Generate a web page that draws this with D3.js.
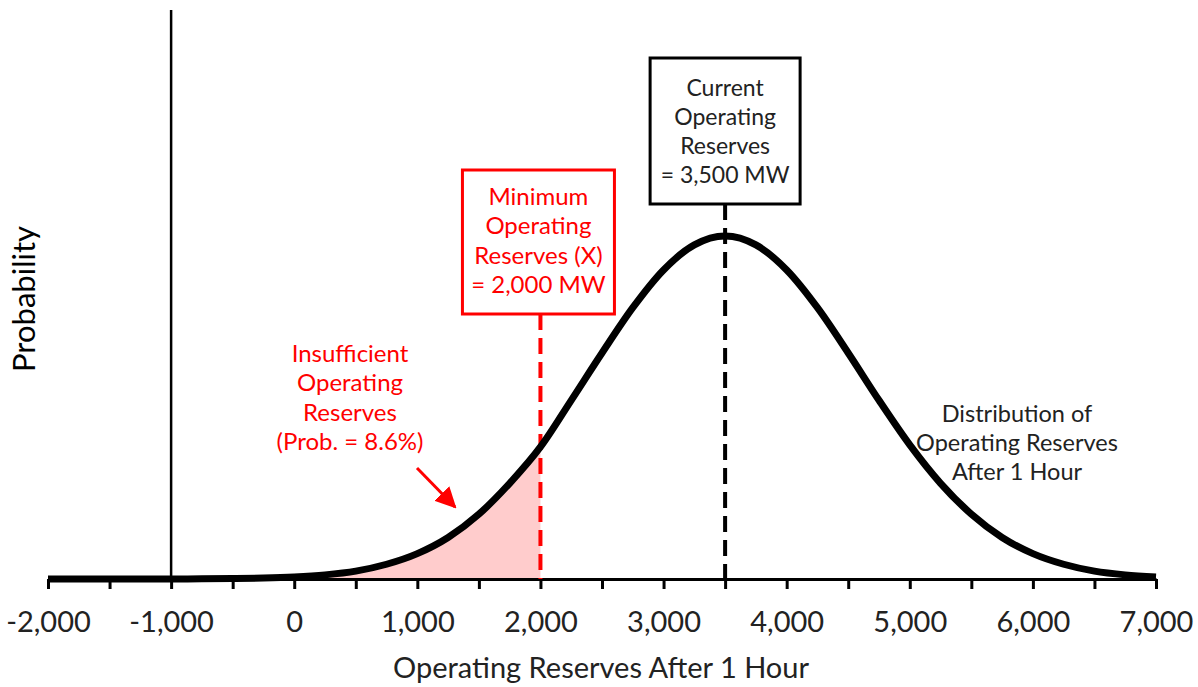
<!DOCTYPE html>
<html>
<head>
<meta charset="utf-8">
<script src="https://cdn.jsdelivr.net/npm/d3@7"></script>
<style>
  body { margin: 0; background: #fff; }
  svg { display: block; font-family: Lato, "Open Sans", sans-serif; }
</style>
</head>
<body>
<svg id="chart" width="1198" height="687"></svg>
<script>
// Operating reserves after 1 hour (MW) and relative probability density
const reserveMW = [-2000, -1750, -1500, -1250, -1000, -750, -500, -250, 0, 250, 500, 750,
  1000, 1250, 1500, 1750, 2000, 2250, 2500, 2750, 3000, 3250, 3500, 3750, 4000, 4250,
  4500, 4750, 5000, 5250, 5500, 5750, 6000, 6250, 6500, 6750, 7000];
const probability = [0, 0, 0.00003, 0.00008, 0.0002, 0.0005, 0.0013, 0.0028, 0.006, 0.012,
  0.023, 0.043, 0.074, 0.121, 0.189, 0.279, 0.385, 0.521, 0.659, 0.791, 0.901, 0.974, 1,
  0.974, 0.901, 0.791, 0.659, 0.521, 0.391, 0.279, 0.189, 0.121, 0.074, 0.043, 0.023, 0.012, 0.006];

const tickValues = [-2000, -1500, -1000, -500, 0, 500, 1000, 1500, 2000, 2500, 3000,
  3500, 4000, 4500, 5000, 5500, 6000, 6500, 7000];
const labelledTicks = [-2000, -1000, 0, 1000, 2000, 3000, 4000, 5000, 6000, 7000];

const yAxisAt = -1000;
const minimumReserves = 2000;
const currentReserves = 3500;

const minimumLabel = ["Minimum", "Operating", "Reserves (X)", "= 2,000 MW"];
const currentLabel = ["Current", "Operating", "Reserves", "= 3,500 MW"];
const shortfallLabel = ["Insufficient", "Operating", "Reserves", "(Prob. = 8.6%)"];
const distributionLabel = ["Distribution of", "Operating Reserves", "After 1 Hour"];

const red = "#ff0000";
const ink = "#222";
const svg = d3.select("#chart");

const x = d3.scaleLinear().domain([-2000, 7000]).range([48, 1156]);
const y = d3.scaleLinear().domain([0, 1]).range([579, 236]);

const points = reserveMW.map((v, i) => ({ mw: v, p: probability[i] }));

// Shaded tail below the minimum requirement
const area = d3.area()
  .x(d => x(d.mw)).y0(y(0)).y1(d => y(d.p))
  .curve(d3.curveMonotoneX);
svg.append("path")
  .datum(points.filter(d => d.mw <= minimumReserves))
  .attr("d", area)
  .attr("fill", "#ffcccc");

// Vertical axis line
svg.append("line")
  .attr("x1", x(yAxisAt)).attr("x2", x(yAxisAt))
  .attr("y1", 10).attr("y2", y(0))
  .attr("stroke", "#000").attr("stroke-width", 2.5);

// Horizontal axis (plain hyphen for negatives)
const fmt = d3.formatLocale({
  decimal: ".", thousands: ",", grouping: [3], currency: ["$", ""], minus: "-"
}).format(",");
const xAxis = d3.axisBottom(x)
  .tickValues(tickValues)
  .tickSize(10)
  .tickSizeOuter(0)
  .tickPadding(43)
  .tickFormat(d => labelledTicks.includes(d) ? fmt(d) : "");
const gx = svg.append("g").attr("transform", `translate(0,${y(0)})`).call(xAxis);
gx.select(".domain").attr("stroke", "#000").attr("stroke-width", 3);
gx.selectAll(".tick line").attr("stroke", "#000").attr("stroke-width", 3);
gx.selectAll(".tick text")
  .attr("fill", ink)
  .attr("dy", null)
  .style("font-size", "29px")
  .style("font-family", "Lato, sans-serif");

// Dashed marker lines
svg.append("line")
  .attr("x1", x(minimumReserves)).attr("x2", x(minimumReserves))
  .attr("y1", 314).attr("y2", y(0))
  .attr("stroke", red).attr("stroke-width", 4)
  .attr("stroke-dasharray", "16,8");
svg.append("line")
  .attr("x1", x(currentReserves)).attr("x2", x(currentReserves))
  .attr("y1", 204).attr("y2", y(0))
  .attr("stroke", "#000").attr("stroke-width", 4)
  .attr("stroke-dasharray", "16,8");

// Distribution curve
const line = d3.line()
  .x(d => x(d.mw)).y(d => y(d.p))
  .curve(d3.curveMonotoneX);
svg.append("path")
  .datum(points)
  .attr("d", line)
  .attr("fill", "none")
  .attr("stroke", "#000")
  .attr("stroke-width", 7)
  .attr("stroke-linejoin", "round");

// Boxed annotation helper
function boxedLabel(cx, top, w, h, lines, color, textColor, size, lineGap, firstY) {
  svg.append("rect")
    .attr("x", cx - w / 2).attr("y", top)
    .attr("width", w).attr("height", h)
    .attr("fill", "#fff").attr("stroke", color).attr("stroke-width", 3);
  const t = svg.append("text")
    .attr("text-anchor", "middle")
    .attr("fill", textColor)
    .style("font-size", size + "px");
  lines.forEach((s, i) => {
    t.append("tspan").attr("x", cx).attr("y", firstY + i * lineGap).text(s);
  });
}

boxedLabel(x(minimumReserves) - 2, 170, 152, 144, minimumLabel, red, red, 24, 29.3, 205);
boxedLabel(x(currentReserves), 58, 150, 146, currentLabel, "#000", ink, 23, 29, 96);

// Shortfall note and arrow
const shortfall = svg.append("text")
  .attr("text-anchor", "middle").attr("fill", red)
  .style("font-size", "24px");
shortfallLabel.forEach((s, i) => {
  shortfall.append("tspan").attr("x", 350).attr("y", 362 + i * 29.3).text(s);
});

svg.append("defs").append("marker")
  .attr("id", "arrowHead")
  .attr("viewBox", "0 0 10 10")
  .attr("refX", 9).attr("refY", 5)
  .attr("markerWidth", 7).attr("markerHeight", 7)
  .attr("markerUnits", "strokeWidth")
  .attr("orient", "auto")
  .append("path").attr("d", "M0,0L10,5L0,10Z").attr("fill", red);
svg.append("line")
  .attr("x1", 417).attr("y1", 468).attr("x2", 455).attr("y2", 507)
  .attr("stroke", red).attr("stroke-width", 3)
  .attr("marker-end", "url(#arrowHead)");

// Distribution note
const dist = svg.append("text")
  .attr("text-anchor", "middle").attr("fill", ink)
  .style("font-size", "23.5px");
distributionLabel.forEach((s, i) => {
  dist.append("tspan").attr("x", 1017).attr("y", 422 + i * 29).text(s);
});

// Axis titles
svg.append("text")
  .attr("x", 601).attr("y", 678)
  .attr("text-anchor", "middle").attr("fill", ink)
  .style("font-size", "29px")
  .text("Operating Reserves After 1 Hour");

svg.append("text")
  .attr("transform", "translate(35,299) rotate(-90)")
  .attr("text-anchor", "middle").attr("fill", "#000")
  .style("font-size", "31px")
  .text("Probability");
</script>
</body>
</html>
